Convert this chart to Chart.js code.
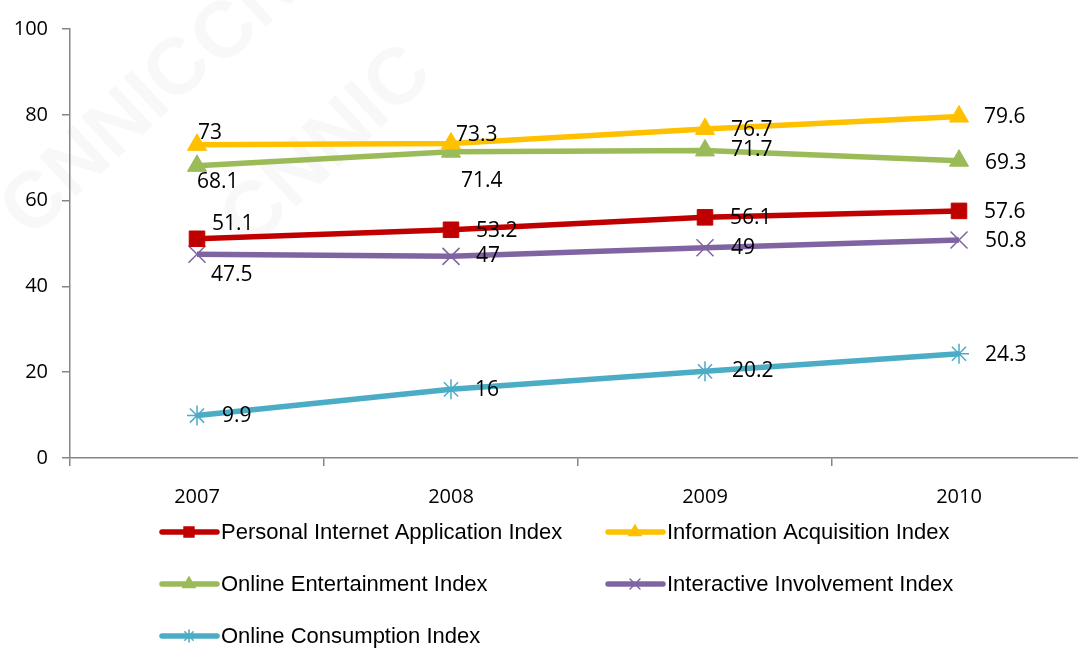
<!DOCTYPE html>
<html lang="en">
<head>
    <meta charset="UTF-8">
    <title>Internet Application Indexes 2007-2010</title>
    <script src="https://cdn.jsdelivr.net/npm/chart.js"></script>
    <style>
        html, body {
            margin: 0;
            padding: 0;
            background: #ffffff;
            overflow: hidden;
        }

        #indexChart {
            display: block;
        }
    </style>
</head>
<body>
    <canvas id="indexChart" width="1078" height="648"></canvas>

    <script>
        // Data
        const years = ['2007', '2008', '2009', '2010'];
        const personalApp = [51.1, 53.2, 56.1, 57.6];
        const infoAcquisition = [73, 73.3, 76.7, 79.6];
        const entertainment = [68.1, 71.4, 71.7, 69.3];
        const interactive = [47.5, 47, 49, 50.8];
        const consumption = [9.9, 16, 20.2, 24.3];
        const yTicks = [0, 20, 40, 60, 80, 100];

        // Where each value label sits relative to its point [dx, dy]
        const labelShift = [
            [[15, -15], [25, 1], [25, 1], [25, 1]],
            [[1, -12], [5, -9], [26, 1], [25, 0]],
            [[0, 16], [10, 29], [26, 0], [26, 2]],
            [[14, 21], [25, 0], [26, 0], [26, 1]],
            [[25, 0], [24, 1], [27, 0], [26, 1]]
        ];

        const series = [
            { label: 'Personal Internet Application Index', data: personalApp, color: '#C00000', style: 'rect', r: 11, lr: 7 },
            { label: 'Information Acquisition Index', data: infoAcquisition, color: '#FFC000', style: 'triangle', r: 11, lr: 7 },
            { label: 'Online Entertainment Index', data: entertainment, color: '#9BBB59', style: 'triangle', r: 11, lr: 7 },
            { label: 'Interactive Involvement Index', data: interactive, color: '#8064A2', style: 'crossRot', r: 12, lr: 7 },
            { label: 'Online Consumption Index', data: consumption, color: '#4BACC6', style: 'star', r: 10, lr: 6 }
        ];

        const isOpen = s => s === 'crossRot' || s === 'star';

        // year axis: each year gets one slot, the last slot is cut by the right edge
        const firstYear = Number(years[0]);
        const xMin = firstYear - 0.5;
        const xMax = xMin + 1008 / 254;
        const xTicks = [];
        years.forEach(y => { xTicks.push(Number(y) - 0.5, Number(y)); });

        // very faint CNNIC watermark
        const watermark = {
            id: 'watermark',
            beforeDraw(chart) {
                const ctx = chart.ctx;
                ctx.save();
                ctx.fillStyle = 'rgba(0, 0, 0, 0.028)';
                ctx.font = 'bold 80px "Liberation Sans", Arial, sans-serif';
                [[30, 240], [250, 250], [220, 70]].forEach(p => {
                    ctx.save();
                    ctx.translate(p[0], p[1]);
                    ctx.rotate(-0.75);
                    ctx.fillText('CNNIC', 0, 0);
                    ctx.restore();
                });
                ctx.restore();
            }
        };

        // value labels beside the points
        const valueLabels = {
            id: 'valueLabels',
            afterDatasetsDraw(chart) {
                const ctx = chart.ctx;
                ctx.save();
                ctx.font = '21px "Open Sans", sans-serif';
                ctx.fillStyle = '#000';
                ctx.textAlign = 'left';
                ctx.textBaseline = 'middle';
                chart.data.datasets.forEach((ds, i) => {
                    chart.getDatasetMeta(i).data.forEach((pt, j) => {
                        const sh = labelShift[i][j];
                        ctx.fillText(String(ds.data[j]), pt.x + sh[0], pt.y + sh[1]);
                    });
                });
                ctx.restore();
            }
        };

        // legend in two columns under the axis
        const sideLegend = {
            id: 'sideLegend',
            afterDraw(chart) {
                const ctx = chart.ctx;
                const cols = [162, 608];
                const rows = [532, 584, 636];
                ctx.save();
                ctx.font = '22px "Liberation Sans", Arial, sans-serif';
                ctx.textAlign = 'left';
                ctx.textBaseline = 'middle';
                series.forEach((s, i) => {
                    const x = cols[i % 2];
                    const y = rows[Math.floor(i / 2)];
                    ctx.strokeStyle = s.color;
                    ctx.fillStyle = s.color;
                    ctx.lineWidth = 5.5;
                    ctx.lineCap = 'round';
                    ctx.beginPath();
                    ctx.moveTo(x, y);
                    ctx.lineTo(x + 55, y);
                    ctx.stroke();
                    ctx.lineWidth = 1.5;
                    Chart.helpers.drawPoint(ctx, { pointStyle: s.style, radius: s.lr, rotation: 0, borderWidth: 1.5 }, x + 27, y);
                    ctx.fillStyle = '#000';
                    ctx.fillText(s.label, x + 59, y + 1);
                });
                ctx.restore();
            }
        };

        const ctx = document.getElementById('indexChart').getContext('2d');
        new Chart(ctx, {
            type: 'line',
            data: {
                labels: years,
                datasets: series.map(s => ({
                    label: s.label,
                    data: s.data,
                    borderColor: s.color,
                    backgroundColor: s.color,
                    borderWidth: 5.5,
                    pointStyle: s.style,
                    pointRadius: s.r,
                    pointHoverRadius: s.r,
                    pointBorderWidth: isOpen(s.style) ? 1.5 : 1,
                    pointBorderColor: s.color,
                    pointBackgroundColor: s.color,
                    tension: 0,
                    clip: false
                }))
            },
            options: {
                responsive: false,
                animation: false,
                layout: {
                    autoPadding: false,
                    padding: { top: 29, right: 0, bottom: 130, left: 0 }
                },
                plugins: {
                    legend: { display: false },
                    tooltip: { enabled: false }
                },
                scales: {
                    x: {
                        type: 'linear',
                        min: xMin,
                        max: xMax,
                        afterBuildTicks(scale) {
                            scale.ticks = xTicks.map(v => ({ value: v }));
                        },
                        grid: {
                            drawOnChartArea: false,
                            drawTicks: true,
                            tickLength: 8,
                            color: c => Number.isInteger(c.tick && c.tick.value) ? 'rgba(0,0,0,0)' : '#868686',
                            lineWidth: 1.5
                        },
                        border: { color: '#868686', width: 1.5 },
                        ticks: {
                            color: '#000',
                            font: { family: '"Open Sans", sans-serif', size: 20 },
                            padding: 19,
                            autoSkip: false,
                            maxRotation: 0,
                            callback: v => Number.isInteger(v) ? String(v) : ''
                        },
                        afterFit(scale) {
                            scale.height = 60;
                            scale.paddingLeft = 0;
                            scale.paddingRight = 0;
                        }
                    },
                    y: {
                        min: 0,
                        max: 100,
                        afterBuildTicks(scale) {
                            scale.ticks = yTicks.map(v => ({ value: v }));
                        },
                        grid: {
                            drawOnChartArea: false,
                            drawTicks: true,
                            tickLength: 8,
                            color: '#868686',
                            lineWidth: 1.5
                        },
                        border: { color: '#868686', width: 1.5 },
                        ticks: {
                            color: '#000',
                            font: { family: '"Open Sans", sans-serif', size: 20 },
                            padding: 14
                        },
                        afterFit(scale) { scale.width = 70; }
                    }
                }
            },
            plugins: [watermark, valueLabels, sideLegend]
        });
    </script>
</body>
</html>
